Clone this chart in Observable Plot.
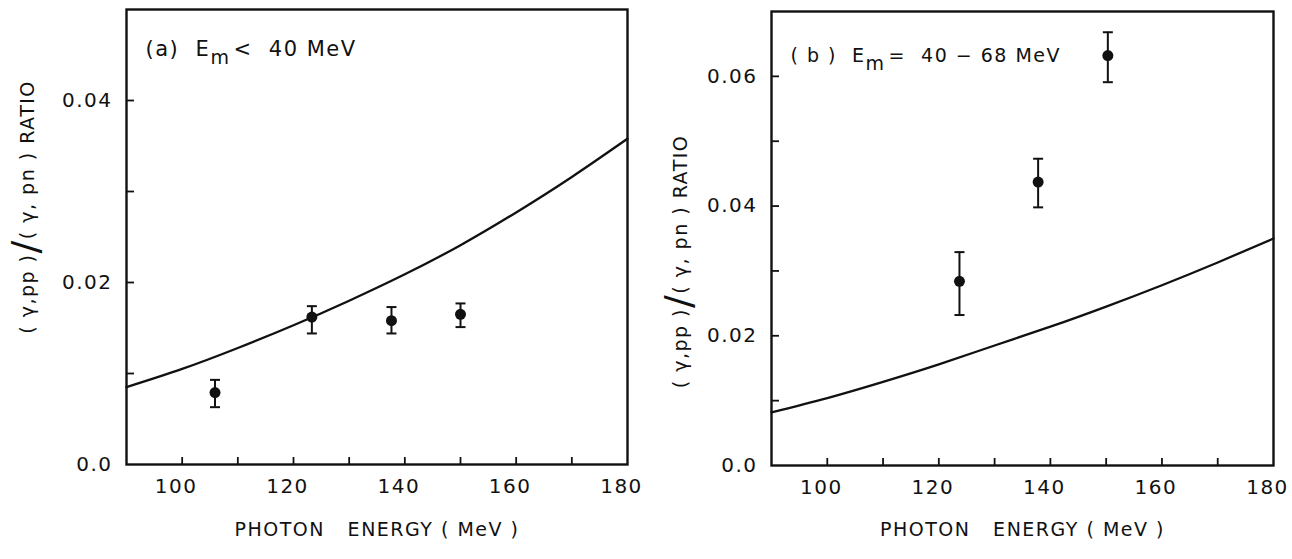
<!DOCTYPE html>
<html><head><meta charset="utf-8">
<script src="https://cdn.jsdelivr.net/npm/d3@7"></script>
<script src="https://cdn.jsdelivr.net/npm/@observablehq/plot@0.6"></script>
<style>
body{margin:0;background:#fff;}
#wrap{position:relative;width:1292px;height:559px;overflow:hidden;}
#a,#b{position:absolute;top:0}
#a{left:0}
#b{left:645px}
#wrap svg{overflow:visible}
svg text{white-space:pre}
</style></head><body>
<div id="wrap"><div id="a"></div><div id="b"></div></div>
<script>
// ---- data ----
const theoryEnergy = [90, 100, 110, 120, 130, 140, 150, 160, 170, 180];
const theoryA = [0.0085, 0.0105, 0.0128, 0.0153, 0.0180, 0.0209, 0.0241, 0.0277, 0.0316, 0.0358];
const theoryB = [0.0082, 0.0104, 0.0129, 0.0156, 0.0185, 0.0214, 0.0245, 0.0278, 0.0313, 0.0350];

const energyA = [105.9, 123.3, 137.6, 150.0];
const ratioA  = [0.0079, 0.0162, 0.0158, 0.0165];
const lowA    = [0.0063, 0.0144, 0.0144, 0.0151];
const highA   = [0.0093, 0.0174, 0.0173, 0.0177];

const energyB = [123.7, 137.8, 150.3];
const ratioB  = [0.0284, 0.0437, 0.0632];
const lowB    = [0.0232, 0.0398, 0.0591];
const highB   = [0.0329, 0.0473, 0.0668];

const xTicks  = [100, 110, 120, 130, 140, 150, 160, 170];
const xLabels = [100, 120, 140, 160, 180];
const yTicksA  = [0.01, 0.02, 0.03, 0.04];
const yLabelsA = [0, 0.02, 0.04];
const yTicksB  = [0.01, 0.02, 0.03, 0.04, 0.05, 0.06];
const yLabelsB = [0, 0.02, 0.04, 0.06];

const titleA = ["(a)  E", "m", "<  40 MeV"];
const titleB = ["( b )  E", "m", "=  40 − 68 MeV"];
const xTitle = "PHOTON   ENERGY ( MeV )";
const yTitle = ["( γ,pp )", "/", "( γ, pn ) RATIO"];

// ---- helpers ----
const hLine = {draw(ctx, size) { const r = Math.sqrt(size / Math.PI); ctx.moveTo(-r, 0); ctx.lineTo(r, 0); }};

function panel({width, mL, mR, mT, mB, yMax, theory, ex, ey, elo, ehi, yTicks, yLabels, title, titleSize, titleDx, titleDy, ylDx, ylDy, xlDy}) {
  const H = 559;
  const frameH = H - mT - mB;
  const frameW = width - mL - mR;
  const curve = theoryEnergy.map((e, i) => ({e, r: theory[i]}));
  const pts = ex.map((e, i) => ({e, r: ey[i], lo: elo[i], hi: ehi[i]}));
  const svg = Plot.plot({
    width, height: H,
    marginLeft: mL, marginRight: mR, marginTop: mT, marginBottom: mB,
    style: {fontFamily: "DejaVu Sans", fontSize: "20px", color: "#111", background: "transparent", letterSpacing: "1.5px"},
    x: {domain: [90, 180]},
    y: {domain: [0, yMax]},
    marks: [
      Plot.frame({stroke: "#111", strokeWidth: 2.4}),
      Plot.tickX(xTicks, {x: d => d, insetTop: frameH - 7, stroke: "#111", strokeWidth: 1.8}),
      Plot.tickY(yTicks, {y: d => d, insetRight: frameW - 8, stroke: "#111", strokeWidth: 1.8}),
      Plot.axisX({ticks: xLabels, tickSize: 0, tickPadding: 14, dx: -6, label: null}),
      Plot.axisY({ticks: yLabels, tickSize: 0, tickPadding: 14, label: null, tickFormat: d => d === 0 ? "0.0" : d.toFixed(2)}),
      Plot.line(curve, {x: "e", y: "r", curve: "natural", stroke: "#111", strokeWidth: 2.3}),
      Plot.ruleX(pts, {x: "e", y1: "lo", y2: "hi", stroke: "#111", strokeWidth: 2}),
      Plot.dot(pts, {x: "e", y: "lo", symbol: hLine, r: 5, stroke: "#111", strokeWidth: 2}),
      Plot.dot(pts, {x: "e", y: "hi", symbol: hLine, r: 5, stroke: "#111", strokeWidth: 2}),
      Plot.dot(pts, {x: "e", y: "r", r: 5.5, fill: "#111", stroke: "none"}),
      Plot.text([title.join("")], {frameAnchor: "top-left", text: d => d, dx: titleDx, dy: titleDy, fontSize: titleSize, textAnchor: "start", lineAnchor: "middle", fill: "#111"}),
      Plot.text([xTitle], {frameAnchor: "bottom", text: d => d, dy: xlDy, fontSize: 19, lineAnchor: "middle", fill: "#111"}),
      Plot.text([yTitle.join("")], {frameAnchor: "left", text: d => d, rotate: -90, dx: ylDx, dy: ylDy, fontSize: 19, textAnchor: "middle", lineAnchor: "middle", fill: "#111"})
    ]
  });
  // subscript in title and big slash in y title
  d3.select(svg).selectAll("text").each(function() {
    const t = this.textContent;
    if (t === title.join("")) {
      const s = d3.select(this).text(null);
      s.append("tspan").text(title[0]);
      s.append("tspan").attr("dy", 8).attr("font-size", "19px").text(title[1]);
      s.append("tspan").attr("dy", -8).attr("dx", 3).text(title[2]);
    } else if (t === yTitle.join("")) {
      const s = d3.select(this).text(null);
      s.append("tspan").text(yTitle[0]);
      s.append("tspan").attr("font-size", "38px").attr("dy", 4).text(yTitle[1]);
      s.append("tspan").attr("dy", -4).text(yTitle[2]);
    }
  });
  return svg;
}

document.getElementById("a").appendChild(panel({
  width: 645, mL: 126, mR: 18, mT: 9, mB: 95, yMax: 0.05, theory: theoryA,
  ex: energyA, ey: ratioA, elo: lowA, ehi: highA, yTicks: yTicksA, yLabels: yLabelsA,
  title: titleA, titleSize: 21, titleDx: 19, titleDy: 40, ylDx: -99, ylDy: -30, xlDy: 65
}));
document.getElementById("b").appendChild(panel({
  width: 647, mL: 126, mR: 19, mT: 11, mB: 94, yMax: 0.07, theory: theoryB,
  ex: energyB, ey: ratioB, elo: lowB, ehi: highB, yTicks: yTicksB, yLabels: yLabelsB,
  title: titleB, titleSize: 19, titleDx: 19, titleDy: 44, ylDx: -91, ylDy: 23, xlDy: 64
}));
</script>
</body></html>
